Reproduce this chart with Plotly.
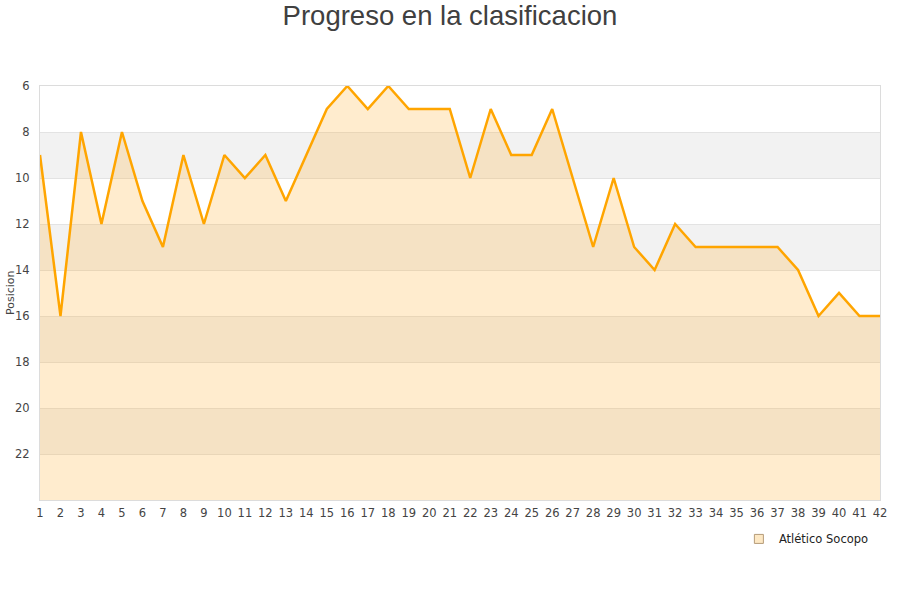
import plotly.graph_objects as go

# jornadas y posiciones del equipo
jornadas = list(range(1, 43))
posiciones = [9, 16, 8, 12, 8, 11, 13, 9, 12, 9,
              10, 9, 11, 9, 7, 6, 7, 6, 7, 7,
              7, 10, 7, 9, 9, 7, 10, 13, 10, 13,
              14, 12, 13, 13, 13, 13, 13, 14, 16, 15,
              16, 16]
equipo = "Atlético Socopo"
y_ticks = [6, 8, 10, 12, 14, 16, 18, 20, 22]
fondo = 24

fig = go.Figure()

# base invisible para rellenar hasta el fondo (eje invertido)
fig.add_trace(go.Scatter(x=jornadas, y=[fondo] * len(jornadas), mode="lines",
                         line=dict(width=0), showlegend=False, hoverinfo="skip"))
fig.add_trace(go.Scatter(x=jornadas, y=posiciones, mode="lines", fill="tonexty",
                         fillcolor="rgba(255,170,30,0.22)",
                         line=dict(color="#ffa500", width=2.5),
                         showlegend=False, name=equipo))
# entrada de leyenda
fig.add_trace(go.Scatter(x=[None], y=[None], mode="markers", name=equipo,
                         marker=dict(symbol="square", size=9, color="#fde8c4",
                                     line=dict(color="#b59b78", width=1))))

# bandas grises alternas
for y0 in [8, 12, 16, 20]:
    fig.add_shape(type="rect", xref="paper", x0=0, x1=1, yref="y", y0=y0, y1=y0 + 2,
                  fillcolor="#f2f2f2", line=dict(width=0), layer="below")

# titulo del eje y como anotacion (standoff no funciona sin automargin)
fig.add_annotation(text="Posicion", xref="paper", yref="paper", x=-0.0357, y=0.5,
                   xanchor="center", yanchor="middle", textangle=-90,
                   showarrow=False, font=dict(size=11, color="#444"))

fig.update_layout(
    width=900, height=600,
    paper_bgcolor="white", plot_bgcolor="white",
    margin=dict(l=40, r=20, t=86, b=100, autoexpand=False),
    title=dict(text="Progreso en la clasificacion", x=0.5, xanchor="center",
               y=0.975, yanchor="middle",
               font=dict(family="Liberation Sans, Arial", size=27.5, color="#404040")),
    font=dict(family="DejaVu Sans", size=11.5, color="#444"),
    legend=dict(x=0.832, y=-0.094, xanchor="left", yanchor="middle",
                font=dict(family="DejaVu Sans", size=11.5, color="#222"),
                bgcolor="rgba(0,0,0,0)"),
    showlegend=True,
)
fig.update_xaxes(range=[1, 42], tickmode="array", tickvals=jornadas,
                 showgrid=False, zeroline=False, showline=True, mirror=True,
                 linecolor="#dcdcdc", linewidth=1, ticks="", fixedrange=True,
                 automargin=False, ticklabelstandoff=2)
fig.update_yaxes(range=[fondo, 6], tickmode="array", tickvals=y_ticks,
                 showgrid=True, gridcolor="#e3e3e3", zeroline=False,
                 showline=True, mirror=True, linecolor="#dcdcdc", linewidth=1,
                 ticks="", ticklabelstandoff=7, automargin=False)

# quitar el margen por defecto del body para que el grafico empiece en 0,0
fig.write_html("out.html", config={"displayModeBar": False},
               post_script="document.body.style.margin='0px';")
